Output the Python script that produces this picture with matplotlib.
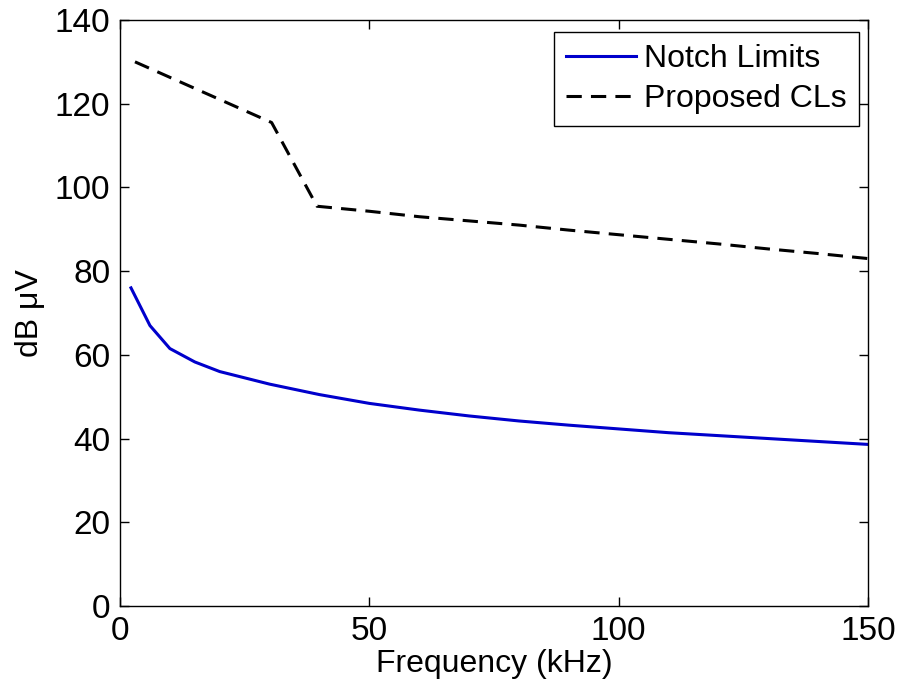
import matplotlib
matplotlib.use("Agg")
import matplotlib.pyplot as plt

plt.rcParams['font.family'] = ['Liberation Sans', 'DejaVu Sans']

notch_f = [2.2, 6, 10, 15, 20, 30, 40, 50, 60, 70, 80, 90, 100, 110, 120, 130, 140, 150]
notch_db = [76, 67, 61.5, 58.3, 56, 53, 50.5, 48.4, 46.8, 45.4, 44.2, 43.2, 42.3, 41.4, 40.7, 40.0, 39.3, 38.6]

cl_f = [3, 30.4, 39.5, 50, 60, 70, 80, 90, 100, 110, 120, 130, 140, 150]
cl_db = [130, 115.5, 95.5, 94.3, 93, 92, 91, 89.8, 88.7, 87.6, 86.5, 85.3, 84.2, 83]

xticks = [0, 50, 100, 150]
yticks = [0, 20, 40, 60, 80, 100, 120, 140]

FS = 23
TFS = 24

fig = plt.figure(figsize=(9.01, 6.89), dpi=100)
ax = fig.add_axes([0.1332, 0.1205, 0.8302, 0.8505])
ax.plot(notch_f, notch_db, color='#0000cc', lw=2.2, label='Notch Limits')
ax.plot(cl_f, cl_db, color='black', lw=2.2, ls=(0, (5, 3)), label='Proposed CLs')
ax.set_xlim(0, 150)
ax.set_ylim(0, 140)
ax.set_xticks(xticks)
ax.set_yticks(yticks)
ax.tick_params(direction='in', length=6.5, width=1, labelsize=TFS, top=True, right=True, pad=7)
ax.set_xlabel('Frequency (kHz)', fontsize=FS, labelpad=2)
ax.set_ylabel('dB μV', fontsize=FS, labelpad=7)
leg = ax.legend(loc='upper right', bbox_to_anchor=(0.988, 0.9795), borderaxespad=0,
                fontsize=FS, handlelength=2.2, handletextpad=0.25,
                fancybox=False, edgecolor='black', framealpha=1,
                borderpad=0.38, labelspacing=0.3)
leg.get_frame().set_linewidth(1.0)
for s in ax.spines.values():
    s.set_linewidth(1.0)
fig.savefig('out.png', dpi=100)
